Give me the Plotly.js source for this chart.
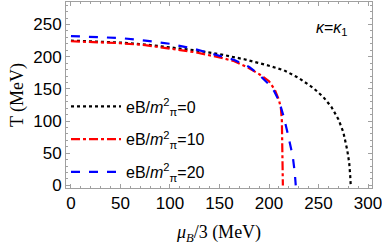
<!DOCTYPE html>
<html>
<head>
<meta charset="utf-8">
<script src="https://cdn.plot.ly/plotly-3.0.1.min.js"></script>
<style>html,body{margin:0;padding:0;background:#fff;}#chart{width:382px;height:245px;}</style>
</head>
<body>
<div id="chart"></div>
<script>
// eB/m_pi^2 = 0 (black dotted)
const mu0 = [0, 25, 50, 75, 100, 125, 150, 175, 200, 215, 230, 245, 255, 263, 270, 275, 279, 281, 282, 282.5];
const T0  = [225, 224, 222, 219, 215, 210, 204, 196, 186, 179, 167, 151, 137, 122, 103, 83, 55, 35, 15, 0];
// eB/m_pi^2 = 10 (red dash-dot)
const mu10 = [0, 25, 50, 75, 100, 125, 150, 165, 180, 190, 200, 206, 210, 212, 213, 213.5, 214, 214];
const T10  = [224, 223, 221, 218, 213, 207, 199, 193, 182, 173, 162, 148, 133, 120, 100, 60, 20, 0];
// eB/m_pi^2 = 20 (blue dashed)
const mu20 = [0, 25, 50, 75, 100, 125, 150, 165, 180, 190, 200, 205, 210, 215, 219, 222, 224, 226, 227];
const T20  = [232, 231, 229, 225, 220, 212, 202, 195, 184, 172, 157, 147, 132, 106, 80, 60, 45, 20, 0];

const names = ["eB/<i>m</i><sup>2</sup><sub>π</sub>=0", "eB/<i>m</i><sup>2</sup><sub>π</sub>=10", "eB/<i>m</i><sup>2</sup><sub>π</sub>=20"];
const xTicks = [0, 50, 100, 150, 200, 250, 300];
const yTicks = [0, 50, 100, 150, 200, 250];

const traces = [
  {x: mu0, y: T0, name: names[0], mode: "lines", legendgroup: "a", line: {color: "#000000", width: 2.2, dash: "dot"}},
  {x: mu10, y: T10, name: names[1], mode: "lines", legendgroup: "b", line: {color: "#ff0000", width: 2.2, dash: "dashdot"}},
  {x: mu20, y: T20, name: names[2], mode: "lines", legendgroup: "c", line: {color: "#0000ff", width: 2.2, dash: "dash"}}
];

const axisCommon = {
  showline: true, mirror: "allticks", linecolor: "#a0a0a0", linewidth: 1,
  ticks: "inside", ticklen: 4, tickcolor: "#a0a0a0", tickwidth: 1,
  showgrid: false, zeroline: false, ticklabeloverflow: "allow",
  tickfont: {family: "Liberation Sans, Arial, sans-serif", size: 17, color: "#000"},
  minor: {ticks: "inside", ticklen: 2, tickcolor: "#a0a0a0", dtick: 10, showgrid: false}
};

const layout = {
  width: 382, height: 245,
  margin: {l: 66, r: 10, t: 2, b: 57},
  paper_bgcolor: "#fff", plot_bgcolor: "#fff",
  showlegend: true,
  legend: {x: 0.0, y: 0.53, xanchor: "left", yanchor: "top", bgcolor: "rgba(0,0,0,0)",
           font: {family: "Liberation Sans, Arial, sans-serif", size: 16, color: "#000"},
           tracegroupgap: 9, traceorder: "grouped", itemwidth: 50},
  xaxis: Object.assign({}, axisCommon, {
    range: [-5, 304], tickvals: xTicks, ticktext: xTicks.map(String),
    title: {text: "<i>μ</i><sub><i>B</i></sub>/3 (MeV)", font: {family: "Liberation Serif, Times New Roman, serif", size: 18, color: "#000"}, standoff: 18}
  }),
  yaxis: Object.assign({}, axisCommon, {
    range: [-4, 285], tickvals: yTicks, ticktext: yTicks.map(String),
    title: {text: "T (MeV)", font: {family: "Liberation Serif, Times New Roman, serif", size: 18, color: "#000"}, standoff: 4}
  }),
  annotations: [
    {xref: "paper", yref: "paper", x: 0.87, y: 0.86, xanchor: "center", yanchor: "middle", showarrow: false,
     text: "<i>κ</i>=<i>κ</i><sub>1</sub>", font: {family: "Liberation Sans, Arial, sans-serif", size: 16, color: "#000"}}
  ]
};

Plotly.newPlot("chart", traces, layout, {displayModeBar: false, staticPlot: true});
</script>
</body>
</html>
